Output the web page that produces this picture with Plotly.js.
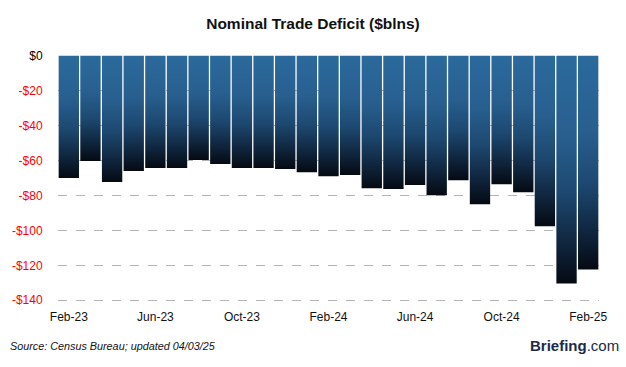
<!DOCTYPE html>
<html>
<head>
<meta charset="utf-8">
<script src="https://cdn.plot.ly/plotly-3.0.1.min.js"></script>
<style>
html,body{margin:0;padding:0;background:#fff;}
#chart{width:626px;height:367px;}
</style>
</head>
<body>
<div id="chart"></div>
<script>
const months = ["Feb-23","Mar-23","Apr-23","May-23","Jun-23","Jul-23","Aug-23","Sep-23","Oct-23","Nov-23","Dec-23","Jan-24",
  "Feb-24","Mar-24","Apr-24","May-24","Jun-24","Jul-24","Aug-24","Sep-24","Oct-24","Nov-24","Dec-24","Jan-25","Feb-25"];
const deficit = [-70.0,-60.2,-72.3,-66.0,-64.2,-64.2,-59.6,-62.0,-64.2,-64.2,-64.8,-66.6,
  -68.9,-68.3,-75.8,-76.3,-74.0,-79.8,-71.2,-85.0,-73.5,-78.1,-97.6,-130.4,-122.4];
const xTickVals = ["Feb-23","Jun-23","Oct-23","Feb-24","Jun-24","Oct-24","Feb-25"];
const yTickVals = [0,-20,-40,-60,-80,-100,-120,-140];
const yTickText = ["$0","-$20","-$40","-$60","-$80","-$100","-$120","-$140"];

const data = [{
  type: 'bar',
  x: months,
  y: deficit,
  marker: {color: '#2a6497', line: {width: 0}},
  hoverinfo: 'x+y'
}];

const layout = {
  width: 626, height: 367,
  margin: {l: 58, r: 27, t: 55, b: 65},
  paper_bgcolor: '#ffffff',
  plot_bgcolor: '#ffffff',
  bargap: 0.06,
  showlegend: false,
  font: {family: 'Liberation Sans, Arial, sans-serif', size: 12, color: '#111'},
  title: {
    text: '<b>Nominal Trade Deficit ($blns)</b>',
    font: {family: 'Liberation Sans, Arial, sans-serif', size: 15.5, color: '#111'},
    x: 0.5, xanchor: 'center', y: 0.935, yanchor: 'middle'
  },
  xaxis: {
    type: 'category',
    tickmode: 'array',
    tickvals: xTickVals,
    ticktext: xTickVals,
    showgrid: false,
    showline: false,
    zeroline: false,
    ticks: 'outside', ticklen: 4, tickcolor: 'rgba(0,0,0,0)',
    tickfont: {size: 12, color: '#111'},
    range: [-0.5, 24.5]
  },
  yaxis: {
    range: [-141, 0.5],
    tickmode: 'array',
    tickvals: yTickVals,
    ticktext: yTickText,
    showgrid: true,
    gridcolor: '#b4b4b4',
    griddash: 'dash',
    gridwidth: 1,
    zeroline: false,
    showline: false,
    ticks: 'outside', ticklen: 12, tickcolor: 'rgba(0,0,0,0)',
    tickfont: {size: 12, color: '#ff0000'}
  },
  annotations: [
    {text: '<i>Source: Census Bureau; updated 04/03/25</i>', xref: 'paper', yref: 'paper',
     x: -0.092, y: -0.178, xanchor: 'left', yanchor: 'middle', showarrow: false,
     font: {size: 10.8, color: '#111'}},
    {text: '<b>Briefing</b>.com', xref: 'paper', yref: 'paper',
     x: 1.04, y: -0.175, xanchor: 'right', yanchor: 'middle', showarrow: false,
     font: {size: 15, color: '#1b2a4a'}}
  ]
};

Plotly.newPlot('chart', data, layout, {displayModeBar: false, staticPlot: true}).then(function(gd){
  const svg = gd.querySelector('svg.main-svg');
  const ns = 'http://www.w3.org/2000/svg';
  let defs = svg.querySelector('defs');
  if (!defs) { defs = document.createElementNS(ns, 'defs'); svg.insertBefore(defs, svg.firstChild); }
  const grad = document.createElementNS(ns, 'linearGradient');
  grad.setAttribute('id', 'barGrad');
  grad.setAttribute('x1', '0'); grad.setAttribute('y1', '0');
  grad.setAttribute('x2', '0'); grad.setAttribute('y2', '1');
  [['0', '#2b6a9c'], ['0.35', '#285f8f'], ['0.6', '#1d4870'], ['0.82', '#10263f'], ['1', '#050a12']].forEach(function(s){
    const st = document.createElementNS(ns, 'stop');
    st.setAttribute('offset', s[0]);
    st.setAttribute('stop-color', s[1]);
    grad.appendChild(st);
  });
  defs.appendChild(grad);
  gd.querySelectorAll('.bars .point path').forEach(function(p){
    p.style.fill = 'url(#barGrad)';
  });
  gd.querySelectorAll('.ytick text').forEach(function(t){
    if (t.textContent === '$0') { t.style.fill = '#000000'; }
  });
});
</script>
</body>
</html>
